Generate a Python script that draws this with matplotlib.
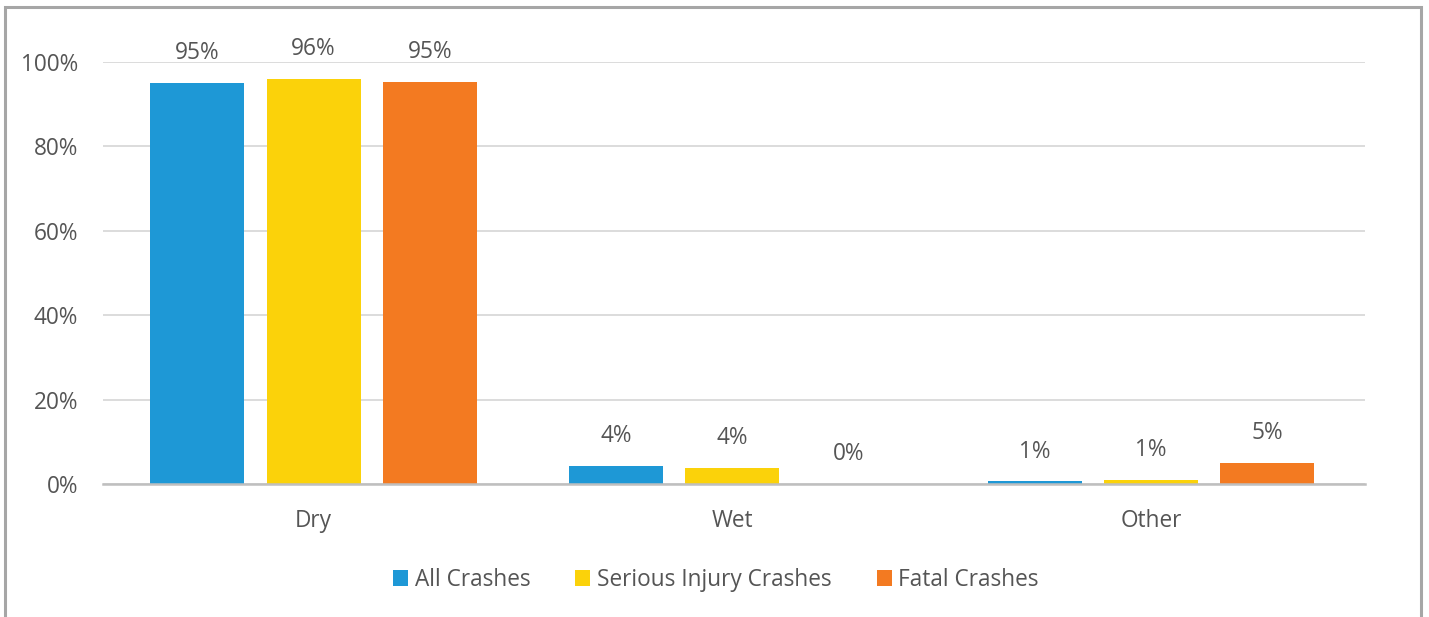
import matplotlib
matplotlib.use("Agg")
import matplotlib.pyplot as plt
import numpy as np
from matplotlib.patches import Rectangle

categories = ["Dry", "Wet", "Other"]
series_names = ["All Crashes", "Serious Injury Crashes", "Fatal Crashes"]
all_crashes = [95.0, 4.3, 0.6]
serious_injury = [96.0, 3.8, 0.9]
fatal = [95.2, 0.0, 5.0]
colors = ["#1E98D6", "#FBD20A", "#F37A21"]
yticks = [0, 20, 40, 60, 80, 100]

plt.rcParams["font.family"] = ["Open Sans", "DejaVu Sans"]
text_color = "#555555"
fs = 16.3

W, H = 1429, 617
fig = plt.figure(figsize=(W / 100, H / 100), dpi=100)
ax = fig.add_axes([103 / W, 1 - 484 / H, (1365 - 103) / W, (484 - 62) / H])

x = np.arange(len(categories))
bar_w = 0.2245
step = 0.278
series = [all_crashes, serious_injury, fatal]
for i, (vals, name, c) in enumerate(zip(series, series_names, colors)):
    pos = x + (i - 1) * step
    ax.bar(pos, vals, width=bar_w, color=c, label=name, zorder=3)
    for px, v in zip(pos, vals):
        ax.annotate(f"{v:.0f}%", (px, v), xytext=(0, 21.5), textcoords="offset points",
                    ha="center", va="center", fontsize=fs, color=text_color,
                    annotation_clip=False)

ax.set_xlim(-0.5027, 2.511)
ax.set_ylim(0, 100)
ax.set_yticks(yticks)
ax.set_yticklabels([f"{t}%" for t in yticks])
ax.set_xticks(x)
ax.set_xticklabels(categories)
ax.tick_params(axis="y", length=0, pad=18, labelsize=fs, labelcolor=text_color)
ax.tick_params(axis="x", length=0, pad=18, labelsize=fs, labelcolor=text_color)
ax.grid(axis="y", color="#D9D9D9", linewidth=1.3, zorder=0)
ax.set_axisbelow(True)
for s in ["top", "right", "left"]:
    ax.spines[s].set_visible(False)
ax.spines["bottom"].set_color("#BFBFBF")
ax.spines["bottom"].set_linewidth(1.8)
ax.spines["bottom"].set_zorder(4)

leg = fig.legend(loc="center", bbox_to_anchor=(716 / W, 1 - 580 / H), ncol=3, frameon=False,
                 fontsize=fs, handlelength=0.65, handleheight=0.65, handletextpad=0.3,
                 columnspacing=2.0)
for t in leg.get_texts():
    t.set_color(text_color)

fig.patches.append(Rectangle((5 / W, -0.1), (1421 - 5) / W, 1.1 - 7 / H,
                             transform=fig.transFigure, fill=False,
                             edgecolor="#A6A6A6", linewidth=2.2))

fig.savefig("out.png", dpi=100, facecolor="white")
